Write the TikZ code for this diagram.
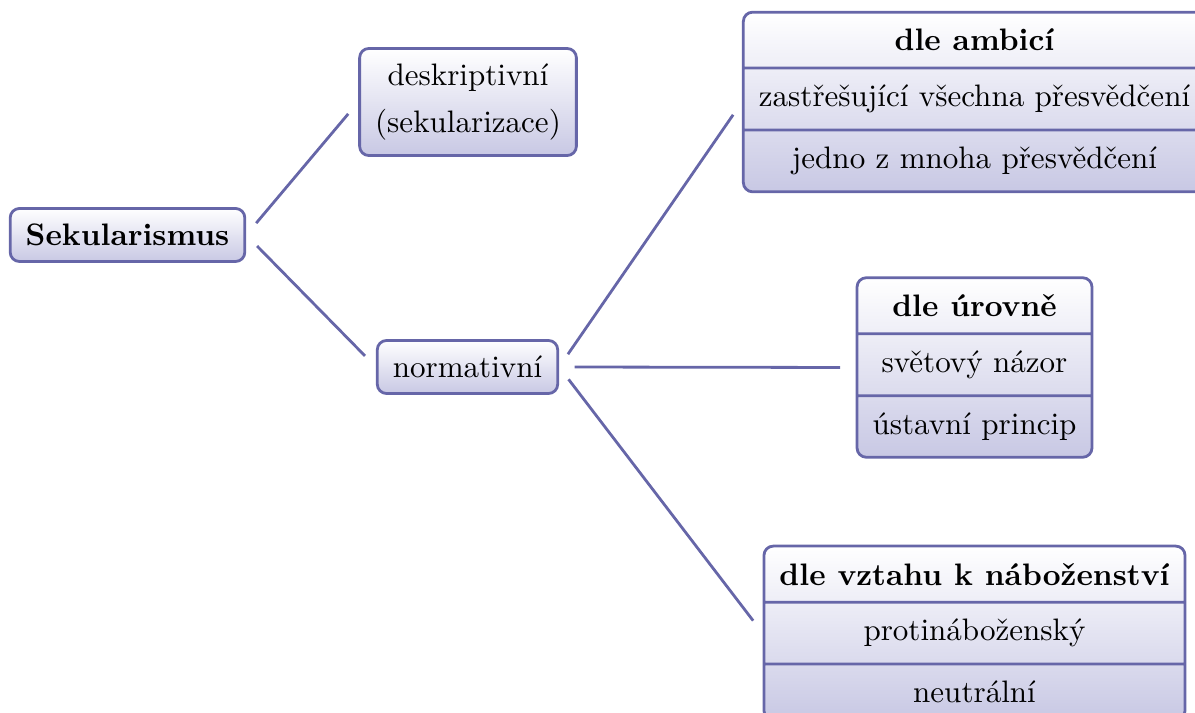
\documentclass[tikz,border=0pt]{standalone}
\usepackage{fontspec}
\usetikzlibrary{shapes.multipart}
\definecolor{boxline}{RGB}{102,102,168}
\definecolor{boxshade}{RGB}{200,200,228}

\begin{document}
\begin{tikzpicture}[x=0.322pt,y=0.322pt,yscale=-1,
  box/.style={draw=boxline, line width=0.9pt, rounded corners=3pt,
    top color=white, bottom color=boxshade, inner xsep=5pt, inner ysep=5pt},
  splitbox/.style={box, rectangle split, rectangle split parts=3},
  link/.style={draw=boxline, line width=0.9pt, shorten >=5pt, shorten <=5pt}]
\useasboundingbox (0,0) rectangle (1195,713);
\clip (0,0) rectangle (1195,713);

% Root
\node[box] (sek) at (127.5,235) {\textbf{Sekularismus}};
% Second level
\node[box, align=center] (desk) at (468,102) {deskriptivní\\[3pt](sekularizace)};
\node[box] (norm) at (467.5,367) {normativní};
% Third level
\node[splitbox] (amb) at (974.5,102)
  {\textbf{dle ambicí}\nodepart{two}zastřešující všechna přesvědčení\nodepart{three}jedno z mnoha přesvědčení};
\node[splitbox] (urov) at (974.5,367.5)
  {\textbf{dle úrovně}\nodepart{two}světový názor\nodepart{three}ústavní princip};
\node[splitbox] (vzt) at (974.5,633)
  {\textbf{dle vztahu k náboženství}\nodepart{two}protináboženský\nodepart{three}neutrální};

% Straight Lines
\draw[link] (sek.east) -- (desk.west);
\draw[link] (sek.east) -- (norm.west);
\draw[link] (norm.east) -- (amb.west);
\draw[link] (norm.east) -- (urov.west);
\draw[link] (norm.east) -- (vzt.west);

\end{tikzpicture}
\end{document}
